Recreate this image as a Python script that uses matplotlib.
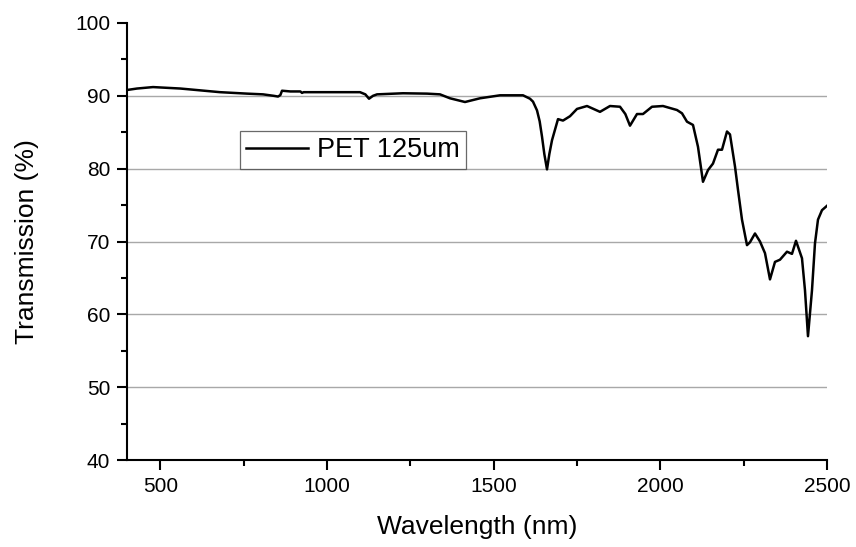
import matplotlib
matplotlib.use("Agg")
import matplotlib.pyplot as plt
from matplotlib.ticker import MultipleLocator

plt.rcParams['font.family'] = ['Liberation Sans', 'DejaVu Sans']

# PET 125um transmission spectrum
wavelength = [400, 430, 478, 560, 679, 760, 808, 840, 853, 860, 865, 890, 920, 925,
              930, 1000, 1099, 1115, 1126, 1138, 1150, 1228, 1300, 1339, 1369, 1414,
              1459, 1519, 1588, 1609, 1618, 1630, 1638, 1645, 1652, 1660, 1667, 1675,
              1693, 1708, 1729, 1750, 1780, 1819, 1849, 1879, 1895, 1909, 1930, 1948,
              1975, 2008, 2050, 2065, 2080, 2098, 2113, 2128, 2143, 2158, 2173, 2185,
              2200, 2209, 2224, 2233, 2245, 2260, 2269, 2284, 2299, 2314, 2329, 2344,
              2359, 2380, 2395, 2407, 2425, 2434, 2443, 2455, 2464, 2473, 2485, 2500]
transmission = [90.8, 91.0, 91.2, 91.0, 90.5, 90.3, 90.2, 90.0, 89.9, 90.1, 90.7,
                90.6, 90.6, 90.4, 90.5, 90.5, 90.5, 90.2, 89.6, 90.0, 90.2, 90.35,
                90.3, 90.2, 89.66, 89.15, 89.66, 90.07, 90.07, 89.6, 89.2, 88.0, 86.5,
                84.4, 82.0, 79.9, 82.0, 83.9, 86.8, 86.6, 87.2, 88.2, 88.6, 87.8, 88.6,
                88.5, 87.5, 85.9, 87.5, 87.5, 88.5, 88.6, 88.05, 87.6, 86.45, 86.0,
                83.0, 78.2, 79.8, 80.7, 82.6, 82.6, 85.1, 84.7, 80.3, 77.1, 73.0, 69.5,
                69.9, 71.1, 70.0, 68.4, 64.8, 67.2, 67.5, 68.6, 68.3, 70.1, 67.7, 63.3,
                57.0, 63.3, 69.75, 73.0, 74.3, 74.9]
grid_levels = [50, 60, 70, 80, 90]

fig = plt.figure(figsize=(8.56, 5.47), dpi=100)
ax = fig.add_axes([0.1484, 0.159, 0.8177, 0.799])

for g in grid_levels:
    ax.axhline(g, color='#a8a8a8', lw=1.0, zorder=1)

ax.plot(wavelength, transmission, color='black', lw=1.8, label='PET 125um', zorder=3)

ax.set_xlim(400, 2500)
ax.set_ylim(40, 100)
ax.xaxis.set_major_locator(MultipleLocator(500))
ax.xaxis.set_minor_locator(MultipleLocator(250))
ax.yaxis.set_major_locator(MultipleLocator(10))
ax.yaxis.set_minor_locator(MultipleLocator(5))

for s in ['top', 'right']:
    ax.spines[s].set_visible(False)
for s in ['left', 'bottom']:
    ax.spines[s].set_linewidth(1.5)

ax.tick_params(which='major', direction='out', length=7, width=1.5, labelsize=15, pad=5)
ax.tick_params(which='minor', direction='out', length=4, width=1.5)

ax.set_xlabel('Wavelength (nm)', fontsize=19, labelpad=14)
ax.set_ylabel('Transmission (%)', fontsize=19, labelpad=26)

leg = ax.legend(loc='upper left', bbox_to_anchor=(0.161, 0.752), fontsize=19.5,
                frameon=True, fancybox=False, handlelength=2.3, handletextpad=0.35,
                borderpad=0.22, borderaxespad=0)
leg.get_frame().set_edgecolor('#444444')
leg.get_frame().set_linewidth(0.9)

fig.savefig('out.png', dpi=100)
